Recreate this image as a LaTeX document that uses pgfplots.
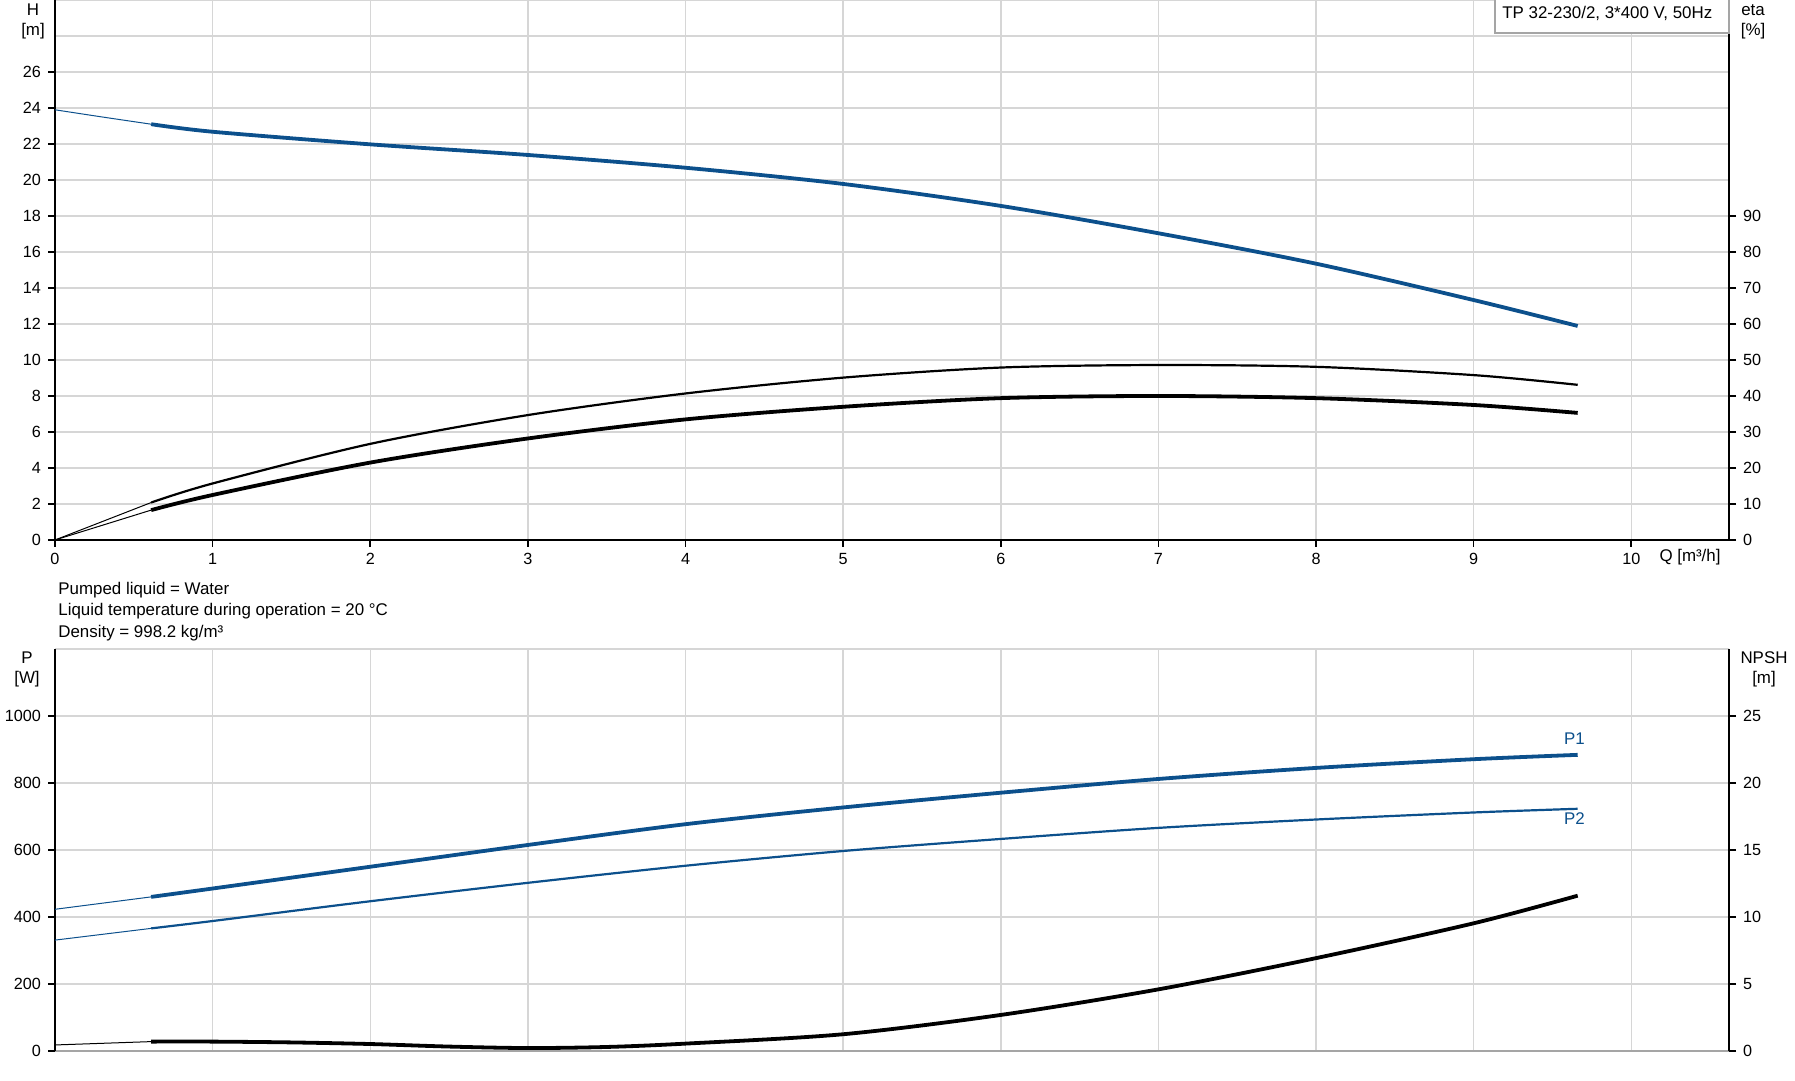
\documentclass[border=0pt]{standalone}
\usepackage{pgfplots}
\pgfplotsset{compat=1.18}
\usepackage{fontspec}
\setmainfont{Liberation Sans}
\definecolor{gfblue}{RGB}{12,80,140}
\definecolor{gridgray}{RGB}{214,214,214}
\definecolor{framegray}{RGB}{165,165,165}

\pgfplotsset{
  pumpbase/.style={
    scale only axis, width=837pt, xmin=0, xmax=10.62,
    anchor=south west,
    /pgf/number format/assume math mode=true,
    /pgf/number format/1000 sep={},
    tick label style={font=\fontsize{8.1}{9.7}\selectfont},
    axis line style={black, line width=1.1pt, -},
    major tick length=3.5pt, minor tick length=0pt,
    tick style={black, line width=0.8pt},
    tick align=outside,
    grid style={gridgray, line width=0.75pt},
    minor grid style={gridgray, line width=0.75pt},
  },
  thick curve/.style={line width=1.9pt, smooth},
  mid curve/.style={line width=1.1pt, smooth},
  thin curve/.style={line width=0.5pt, smooth},
}

\begin{document}
\begin{tikzpicture}
\useasboundingbox (0,0) rectangle (897.5pt,540.5pt);

% ---------- top: H ----------
\begin{axis}[pumpbase, at={(27.5pt,270.5pt)}, height=270pt,
  ymin=0, ymax=30,
  axis x line*=bottom, axis y line*=left,
  xtick={0,...,10}, ytick={0,2,...,26}, minor ytick={28,30},
  xticklabel style={yshift=0.6pt},
  grid=both,
]
\addplot[gfblue, thin curve] coordinates {(0,23.9) (0.3,23.5) (0.61,23.1)};
\addplot[gfblue, thick curve] coordinates {
  (0.61,23.1) (1,22.68) (2,21.98) (3,21.39) (4,20.68) (5,19.78)
  (6,18.56) (7,17.04) (8,15.35) (9,13.33) (9.66,11.89)};
\end{axis}

% ---------- top: eta ----------
\begin{axis}[pumpbase, at={(27.5pt,270.5pt)}, height=270pt,
  ymin=0, ymax=150, hide x axis,
  axis y line*=right, ytick={0,10,...,90},
]
\addplot[black, thin curve] coordinates {(0,0) (0.61,10.4)};
\addplot[black, mid curve] coordinates {
  (0.61,10.4) (1,15.7) (2,26.7) (3,34.7) (4,40.7) (5,45.1)
  (6,47.9) (7,48.6) (8,48.1) (9,45.8) (9.66,43.1)};
\addplot[black, thin curve] coordinates {(0,0) (0.61,8.3)};
\addplot[black, thick curve] coordinates {
  (0.61,8.3) (1,12.5) (2,21.5) (3,28.2) (4,33.5) (5,37)
  (6,39.4) (7,40) (8,39.4) (9,37.5) (9.66,35.3)};
\end{axis}

% ---------- bottom: P ----------
\begin{axis}[pumpbase, at={(27.5pt,15pt)}, height=201pt,
  ymin=0, ymax=1200,
  axis x line*=bottom, axis y line*=left,
  x axis line style={framegray, line width=0.8pt},
  xtick={0,...,10}, xticklabels={}, xtick style={draw=none},
  ytick={0,200,...,1000}, minor ytick={1200},
  grid=both,
]
\addplot[gfblue, thin curve] coordinates {(0,423) (0.61,460)};
\addplot[gfblue, thick curve] coordinates {
  (0.61,460) (1,485) (2,550) (3,615) (4,677) (5,727)
  (6,771) (7,812) (8,845) (9,871) (9.66,884)};
\addplot[gfblue, thin curve] coordinates {(0,331) (0.61,366)};
\addplot[gfblue, mid curve] coordinates {
  (0.61,366) (1,388) (2,447) (3,502) (4,553) (5,597)
  (6,633) (7,666) (8,691) (9,712) (9.66,723)};
\node[text=gfblue, font=\fontsize{8.45}{10}\selectfont] at (axis cs:9.64,931) {P1};
\node[text=gfblue, font=\fontsize{8.45}{10}\selectfont] at (axis cs:9.64,695) {P2};
\end{axis}

% ---------- bottom: NPSH ----------
\begin{axis}[pumpbase, at={(27.5pt,15pt)}, height=201pt,
  ymin=0, ymax=30, hide x axis,
  axis y line*=right, ytick={0,5,...,25},
]
\addplot[black, thin curve] coordinates {(0,0.45) (0.61,0.7)};
\addplot[black, thick curve] coordinates {
  (0.61,0.7) (1,0.7) (1.5,0.64) (2,0.52) (2.5,0.33) (3,0.22) (3.5,0.3)
  (4,0.55) (5,1.25) (6,2.69) (7,4.6) (8,6.93) (9,9.53) (9.66,11.59)};
\end{axis}

% ---------- texts ----------
\begin{scope}[every node/.style={font=\fontsize{8.45}{10}\selectfont, inner sep=0pt}]
\node at (16.5pt,535.5pt) {H};
\node at (16.5pt,525pt) {[m]};
\node at (876.5pt,535.5pt) {eta};
\node at (876.5pt,525pt) {[\%]};
\node at (13.5pt,211.5pt) {P};
\node at (13.5pt,201pt) {[W]};
\node at (882pt,211.5pt) {NPSH};
\node at (882pt,201pt) {[m]};
\node at (845pt,262pt) {Q [m³/h]};
\node[anchor=west] at (29pt,245.5pt) {Pumped liquid = Water};
\node[anchor=west] at (29pt,234.7pt) {Liquid temperature during operation = 20 °C};
\node[anchor=west] at (29pt,223.9pt) {Density = 998.2 kg/m³};
\draw[framegray, line width=0.8pt, fill=white] (747.5pt,524pt) rectangle (864.5pt,541pt);
\node[anchor=west] at (751pt,534pt) {TP 32-230/2, 3*400 V, 50Hz};
\end{scope}
\end{tikzpicture}
\end{document}
